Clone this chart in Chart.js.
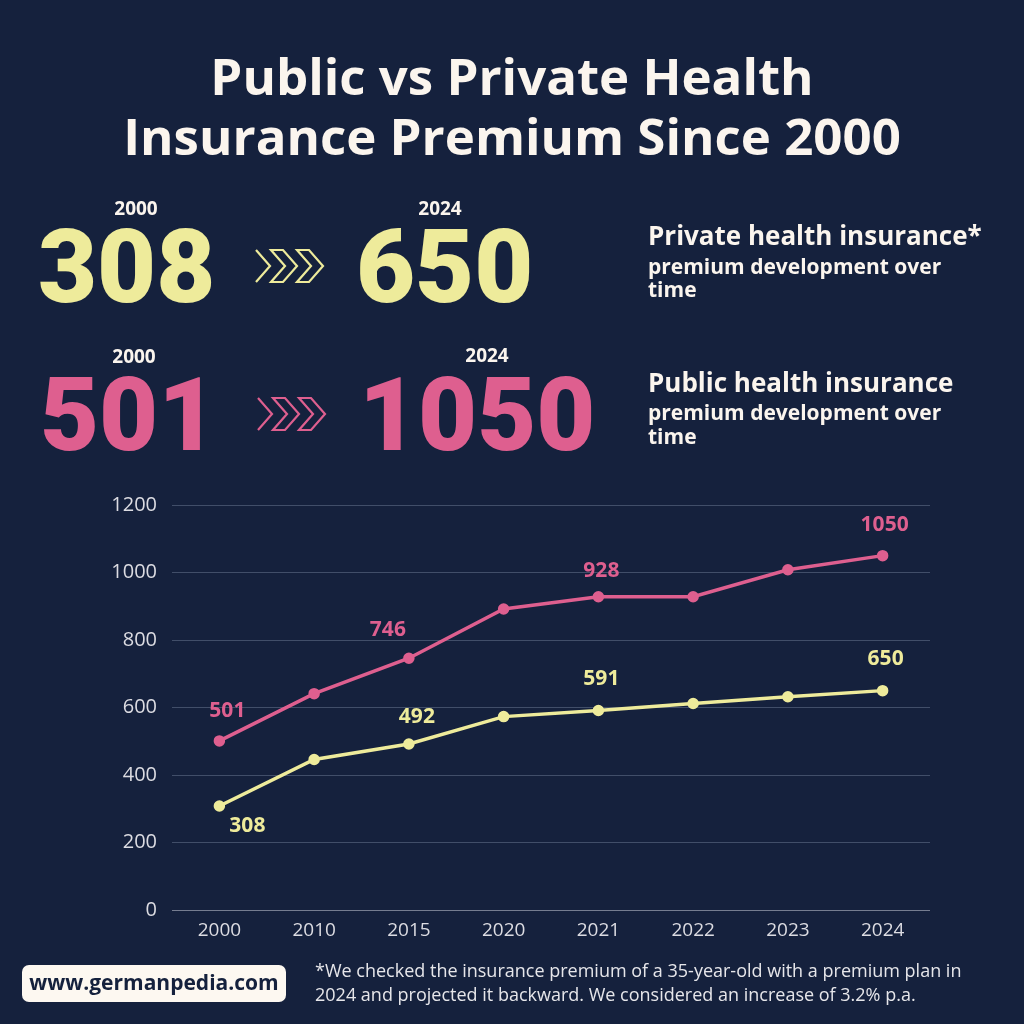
<!DOCTYPE html>
<html>
<head>
<meta charset="utf-8">
<script src="https://cdn.jsdelivr.net/npm/chart.js@4.4.1/dist/chart.umd.min.js"></script>
<style>
  html, body { margin: 0; padding: 0; background: #15213d; }
  #wrap { width: 1024px; height: 1024px; position: relative; }
</style>
</head>
<body>
<div id="wrap"><canvas id="premium" width="1024" height="1024"></canvas></div>
<script>
// data
const years = ['2000', '2010', '2015', '2020', '2021', '2022', '2023', '2024'];
const publicPremium = [501, 641, 746, 892, 928, 928, 1008, 1050];
const privatePremium = [308, 446, 492, 573, 591, 612, 632, 650];
const yTicks = [0, 200, 400, 600, 800, 1000, 1200];

// which points carry a value label, and where the label sits (px from the point)
const publicLabelAt = {0: [8, -30], 2: [-21, -28], 4: [3, -26], 7: [2, -31]};
const privateLabelAt = {0: [28, 20], 2: [8, -27], 4: [3, -32], 7: [3, -32]};

const BG = '#15213d';
const PINK = '#de5f8f';
const YELLOW = '#eeeb9b';
const WHITE = '#fbf5ee';

function chevrons(ctx, x, y, color) {
  ctx.save();
  ctx.strokeStyle = color;
  ctx.lineWidth = 2.2;
  ctx.lineJoin = 'miter';
  ctx.beginPath();
  ctx.moveTo(x, y);
  ctx.lineTo(x + 14, y + 16);
  ctx.lineTo(x, y + 32);
  ctx.stroke();
  for (let k = 0; k < 2; k++) {
    const ox = x + 15 + k * 26;
    ctx.beginPath();
    ctx.moveTo(ox, y);
    ctx.lineTo(ox + 12, y);
    ctx.lineTo(ox + 26, y + 16);
    ctx.lineTo(ox + 12, y + 32);
    ctx.lineTo(ox, y + 32);
    ctx.lineTo(ox + 14, y + 16);
    ctx.closePath();
    ctx.stroke();
  }
  ctx.restore();
}

const decor = {
  id: 'decor',
  beforeDraw(chart) {
    const c = chart.ctx;
    c.save();
    c.fillStyle = BG;
    c.fillRect(0, 0, chart.width, chart.height);
    c.restore();
  },
  afterDraw(chart) {
    const c = chart.ctx;
    c.save();
    c.textBaseline = 'middle';

    // title
    c.fillStyle = WHITE;
    c.textAlign = 'center';
    c.font = 'bold 51px "Open Sans"';
    c.fillText('Public vs Private Health', 512, 80);
    c.fillText('Insurance Premium Since 2000', 512, 140);

    // small year labels
    c.font = 'bold 19px "Open Sans"';
    c.fillText('2000', 136, 210);
    c.fillText('2024', 440, 210);
    c.fillText('2000', 134, 358);
    c.fillText('2024', 487, 357);

    // big numbers
    c.textAlign = 'left';
    c.textBaseline = 'alphabetic';
    c.font = '900 102px Roboto';
    c.fillStyle = YELLOW;
    c.fillText('308', 38, 302);
    c.fillText('650', 356, 302);
    c.fillStyle = PINK;
    c.fillText('501', 40, 450);
    c.fillText('1050', 359, 450);

    chevrons(c, 256, 250, YELLOW);
    chevrons(c, 258, 398, PINK);

    // series captions
    c.textBaseline = 'middle';
    c.fillStyle = WHITE;
    c.font = 'bold 26px "Open Sans"';
    c.fillText('Private health insurance*', 648, 238);
    c.fillText('Public health insurance', 648, 385);
    c.font = 'bold 21px "Open Sans"';
    c.fillText('premium development over', 648, 268);
    c.fillText('time', 648, 291);
    c.fillText('premium development over', 648, 414);
    c.fillText('time', 648, 438);

    // value labels on the lines
    c.font = 'bold 21px "Open Sans"';
    c.textAlign = 'center';
    const sets = [[0, publicLabelAt, PINK], [1, privateLabelAt, YELLOW]];
    sets.forEach(([di, spots, col]) => {
      const meta = chart.getDatasetMeta(di);
      const vals = chart.data.datasets[di].data;
      c.fillStyle = col;
      Object.keys(spots).forEach(i => {
        const p = meta.data[i];
        const [dx, dy] = spots[i];
        c.fillText(String(vals[i]), p.x + dx, p.y + dy);
      });
    });

    // footer
    c.fillStyle = '#fdf8f1';
    c.beginPath();
    c.roundRect(22, 965, 264, 37, 7);
    c.fill();
    c.fillStyle = '#15213d';
    c.font = 'bold 21px "Open Sans"';
    c.fillText('www.germanpedia.com', 154, 984);
    c.textAlign = 'left';
    c.fillStyle = '#e6e6ea';
    c.font = '18px "Open Sans"';
    c.fillText('*We checked the insurance premium of a 35-year-old with a premium plan in', 315, 972);
    c.fillText('2024 and projected it backward. We considered an increase of 3.2% p.a.', 315, 996);

    c.restore();
  }
};

new Chart(document.getElementById('premium'), {
  type: 'line',
  data: {
    labels: years,
    datasets: [
      {
        label: 'Public health insurance',
        data: publicPremium,
        borderColor: PINK,
        backgroundColor: PINK,
        borderWidth: 3.5,
        pointRadius: 4,
        pointHoverRadius: 4,
        tension: 0
      },
      {
        label: 'Private health insurance',
        data: privatePremium,
        borderColor: YELLOW,
        backgroundColor: YELLOW,
        borderWidth: 3.5,
        pointRadius: 4,
        pointHoverRadius: 4,
        tension: 0
      }
    ]
  },
  options: {
    responsive: false,
    animation: false,
    layout: {
      padding: {top: 505, right: 94, bottom: 0, left: 0}
    },
    plugins: {
      legend: {display: false},
      tooltip: {enabled: false}
    },
    scales: {
      x: {
        offset: true,
        grid: {display: false},
        border: {display: false},
        ticks: {
          color: '#dcdce2',
          font: {family: 'Open Sans', size: 19},
          padding: 1
        },
        afterFit(scale) { scale.height = 114; }
      },
      y: {
        min: 0,
        max: 1200,
        afterBuildTicks(scale) { scale.ticks = yTicks.map(v => ({value: v})); },
        grid: {
          color: (ctx) => ctx.tick && ctx.tick.value === 0 ? '#767d90' : 'rgba(120,132,160,0.45)',
          drawTicks: false,
          lineWidth: 1
        },
        border: {display: false},
        ticks: {
          color: '#dcdce2',
          font: {family: 'Open Sans', size: 20},
          padding: 15,
          callback: (v) => String(v)
        },
        afterFit(scale) { scale.width = 172; }
      }
    }
  },
  plugins: [decor]
});
</script>
</body>
</html>
